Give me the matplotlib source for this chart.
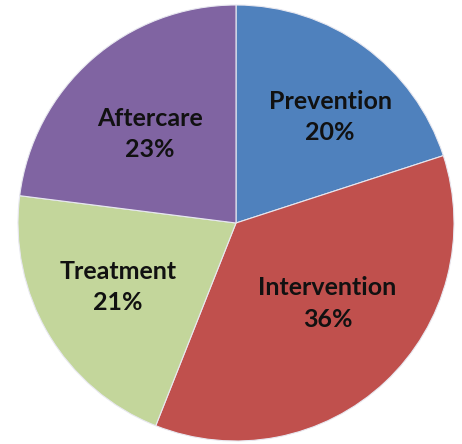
import numpy as np
import matplotlib
matplotlib.use("Agg")
from matplotlib import pyplot as plt

# slice data, clockwise from 12 o'clock
categories = ["Prevention", "Intervention", "Treatment", "Aftercare"]
shares = [20, 36, 21, 23]
colors = ["#4F81BD", "#C0504D", "#C3D69B", "#8064A2"]

# label placement: fraction of radius, and nudge (deg) off the slice middle
label_dist = [0.65, 0.56, 0.615, 0.568]
label_nudge = [-5.6, 5.4, -2.1, 2.6]

fig = plt.figure(figsize=(4.62, 4.44), dpi=100)
ax = fig.add_axes([0, 0, 1, 1])

wedges, _ = ax.pie(shares, colors=colors, startangle=90, counterclock=False,
                   wedgeprops=dict(edgecolor="#e8e8f0", linewidth=0.8))

for w, name, pct, d, nd in zip(wedges, categories, shares, label_dist, label_nudge):
    mid = np.deg2rad((w.theta1 + w.theta2) / 2 + nd)
    ax.text(d * np.cos(mid), d * np.sin(mid), f"{name}\n{pct}%",
            ha="center", va="center", fontsize=18, fontweight="bold",
            family="Lato", color="#111111", linespacing=1.45)

# centre at (236, 223) px from top-left, radius 218 px
ax.set_xlim(-236 / 218, (462 - 236) / 218)
ax.set_ylim(-(444 - 223) / 218, 223 / 218)
ax.set_aspect("auto")
ax.axis("off")

fig.savefig("out.png", dpi=100)
